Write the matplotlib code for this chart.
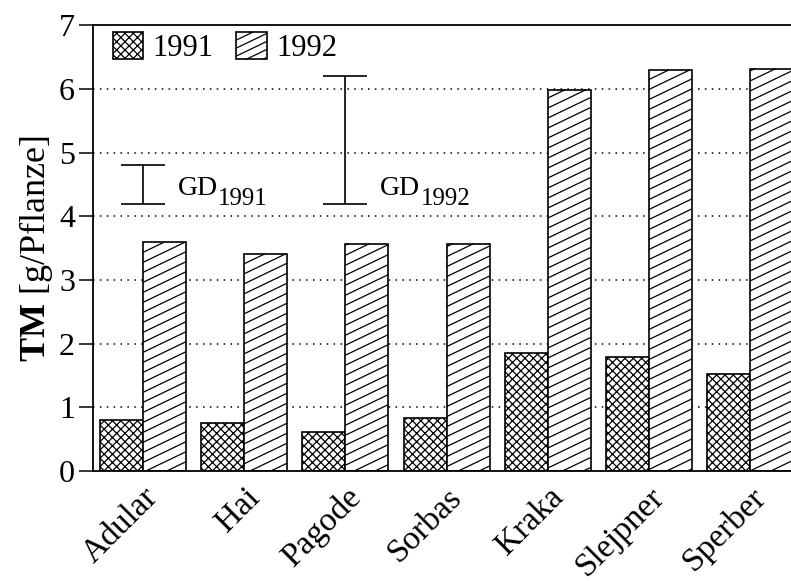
import numpy as np
import matplotlib
matplotlib.use("Agg")
import matplotlib.pyplot as plt
from matplotlib.patches import Patch, Rectangle
from matplotlib.collections import LineCollection
from matplotlib.transforms import IdentityTransform
from matplotlib.legend_handler import HandlerBase

plt.rcParams['font.family'] = ['Liberation Serif', 'DejaVu Serif']
plt.rcParams['mathtext.fontset'] = 'custom'
plt.rcParams['mathtext.rm'] = 'Liberation Serif'
plt.rcParams['mathtext.bf'] = 'Liberation Serif:bold'
plt.rcParams['hatch.linewidth'] = 0.9

sorten = ['Adular', 'Hai', 'Pagode', 'Sorbas', 'Kraka', 'Slejpner', 'Sperber']
tm_1991 = [0.80, 0.76, 0.62, 0.83, 1.86, 1.79, 1.52]
tm_1992 = [3.59, 3.41, 3.57, 3.57, 5.99, 6.30, 6.32]
jahre = ['1991', '1992']

# GD (Grenzdifferenz): position, von, bis
gd_x = [0, 2]
gd_lo = [4.2, 4.2]
gd_hi = [4.8, 6.2]
gd_label = ['1991', '1992']

SLOPE = 0.48     # flache Schraffur der 1992-Balken (px/px)
SPACING = 10.0   # vertikaler Abstand der Schraffurlinien in px


def hatch_segments(x0, y0, x1, y1, slope, spacing):
    segs = []
    kmin = int(np.floor((y0 - slope * x1) / spacing))
    kmax = int(np.ceil((y1 - slope * x0) / spacing))
    for k in range(kmin, kmax + 1):
        c = k * spacing
        xa = max(x0, (y0 - c) / slope)
        xb = min(x1, (y1 - c) / slope)
        if xb > xa:
            segs.append([(xa, c + slope * xa), (xb, c + slope * xb)])
    return segs


class ShallowHatch(HandlerBase):
    def create_artists(self, legend, orig_handle, xdescent, ydescent,
                       width, height, fontsize, trans):
        x0, y0 = -xdescent, -ydescent
        rect = Rectangle((x0, y0), width, height, facecolor='white',
                         edgecolor='black', lw=1.2, transform=trans)
        segs = hatch_segments(x0, y0, x0 + width, y0 + height,
                              SLOPE, SPACING * 0.72 * 0.8)
        lc = LineCollection(segs, colors='black', linewidths=0.9, transform=trans)
        return [rect, lc]


fig = plt.figure(figsize=(7.91, 5.81), dpi=100)
ax = fig.add_axes([93 / 791, 110 / 581, 698 / 791, 445.7 / 581])

x = np.arange(len(sorten))
w = 0.425
ax.set_xlim(-0.494, 6.403)
ax.set_ylim(0, 7)

for y in range(1, 7):
    ax.axhline(y, color='black', lw=1.1, ls=(0, (1.0, 3.5)), zorder=0)

ax.bar(x - w / 2, tm_1991, w, facecolor='white', edgecolor='black',
       lw=1.2, hatch='xxxx', zorder=2)
bars92 = ax.bar(x + w / 2, tm_1992, w, facecolor='white', edgecolor='black',
                lw=1.2, zorder=2)

segs = []
for b in bars92:
    (px0, py0), (px1, py1) = ax.transData.transform(
        [(b.get_x(), 0), (b.get_x() + b.get_width(), b.get_height())])
    segs += hatch_segments(px0, py0, px1, py1, SLOPE, SPACING)
ax.add_collection(LineCollection(segs, colors='black', linewidths=0.9,
                                 transform=IdentityTransform(), zorder=2.5))

for gx, lo, hi, lab in zip(gd_x, gd_lo, gd_hi, gd_label):
    ax.errorbar(gx, (lo + hi) / 2, yerr=(hi - lo) / 2, fmt='none',
                ecolor='black', elinewidth=1.2, capsize=16, capthick=1.2, zorder=3)
    t = ax.text(gx + 0.34, lo + 0.13, 'GD', fontsize=20, va='baseline', ha='left')
    ax.annotate(lab, xy=(1, 0), xycoords=t, xytext=(0.5, -6.5),
                textcoords='offset points', fontsize=18, va='bottom', ha='left')

ax.set_xticks(x)
ax.set_xticklabels(sorten, rotation=45, ha='right', rotation_mode='anchor', fontsize=24)
ax.tick_params(axis='x', length=0, pad=8)
ax.set_yticks(range(0, 8))
ax.tick_params(axis='y', direction='out', length=10, width=1.1, labelsize=23, pad=3)
ax.set_ylabel(r'$\mathbf{TM}$ [g/Pflanze]', fontsize=26, labelpad=3)

ax.spines['right'].set_visible(False)
for s in ['left', 'top', 'bottom']:
    ax.spines[s].set_linewidth(1.3)

handles = [Patch(facecolor='white', edgecolor='black', hatch='xxxx', lw=1.2),
           Rectangle((0, 0), 1, 1)]
ax.legend(handles, jahre, handler_map={Rectangle: ShallowHatch()},
          loc='upper left', bbox_to_anchor=(0.028, 0.985), ncol=2, frameon=False,
          fontsize=22, handlelength=1.0, handleheight=1.0, handletextpad=0.3,
          columnspacing=0.75, borderpad=0, borderaxespad=0)

fig.savefig('out.png', dpi=100)
